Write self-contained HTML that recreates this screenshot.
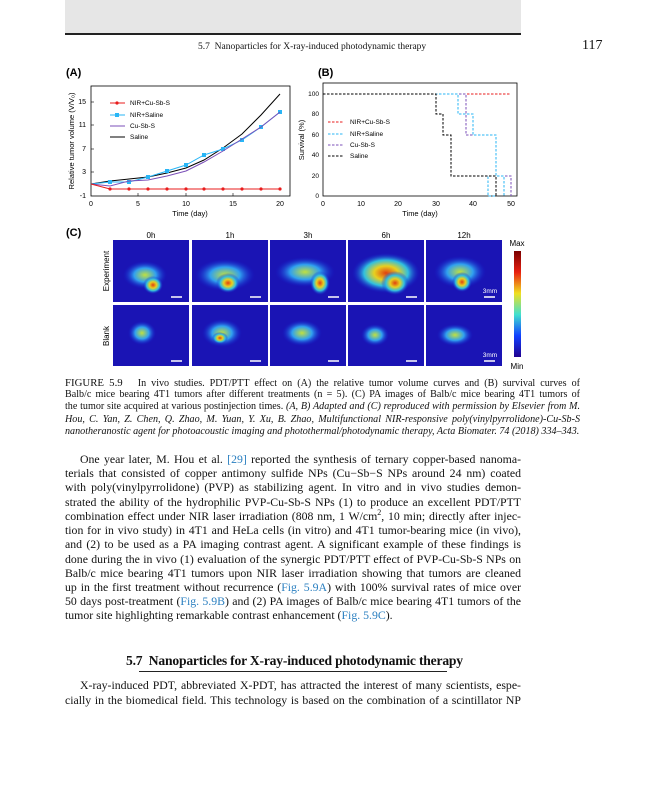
<!DOCTYPE html>
<html><head><meta charset="utf-8"><style>
body{margin:0;background:#fff;width:648px;height:800px;overflow:hidden;position:relative;font-family:"Liberation Serif",serif;color:#111}
.a{position:absolute;white-space:nowrap}
.ln{position:absolute;left:65px;width:456px;font-size:11.8px;text-align:justify;text-align-last:justify;white-space:nowrap;line-height:14px}
.ln.l{text-align-last:left}
.cp{position:absolute;left:65px;width:515px;font-size:10.1px;white-space:nowrap;line-height:12px;text-align:justify;text-align-last:justify}
.cp.l{text-align-last:left}
.b{color:#2a7fc0}
i{font-style:italic}
</style></head><body>
<div class="a" style="left:65px;top:0;width:456px;height:33px;background:#e6e6e6"></div>
<div class="a" style="left:65px;top:33px;width:456px;height:1.5px;background:#222"></div>
<div class="a" style="left:198px;top:42px;font-size:9.5px">5.7&nbsp; Nanoparticles for X-ray-induced photodynamic therapy</div>
<div class="a" style="left:582px;top:38px;font-size:14px">117</div>

<svg class="a" style="left:0;top:0" width="648" height="375" font-family="Liberation Sans, sans-serif">
<text x="66" y="76" font-size="11" font-weight="bold">(A)</text>
<text x="318" y="76" font-size="11" font-weight="bold">(B)</text>
<text x="66" y="236" font-size="11" font-weight="bold">(C)</text>
<rect x="91" y="86" width="199" height="110" fill="none" stroke="#000" stroke-width="0.8"/>
<g font-size="7" text-anchor="end">
<text x="86" y="104">15</text><text x="86" y="127">11</text><text x="86" y="151">7</text><text x="86" y="174">3</text><text x="86" y="198">-1</text></g>
<g stroke="#000" stroke-width="0.6"><line x1="91" y1="102" x2="94" y2="102"/><line x1="91" y1="125" x2="94" y2="125"/><line x1="91" y1="149" x2="94" y2="149"/><line x1="91" y1="172" x2="94" y2="172"/>
<line x1="138" y1="196" x2="138" y2="193"/><line x1="186" y1="196" x2="186" y2="193"/><line x1="233" y1="196" x2="233" y2="193"/></g>
<g font-size="7" text-anchor="middle"><text x="91" y="206">0</text><text x="138" y="206">5</text><text x="186" y="206">10</text><text x="233" y="206">15</text><text x="280" y="206">20</text></g>
<text x="190" y="216" font-size="7.5" text-anchor="middle">Time (day)</text>
<text transform="translate(74,141) rotate(-90)" font-size="7.5" text-anchor="middle">Relative tumor volume (V/V₀)</text>
<polyline fill="none" stroke="#000" stroke-width="1" points="91,184 110,181 129,179 148,177 167,173 186,168 204,160 223,148 242,134 261,115 280,94"/>
<polyline fill="none" stroke="#29b6f6" stroke-width="1" points="91,184 110,182 129,182 148,177 167,171 186,165 204,155 223,149 242,140 261,127 280,112"/>
<g fill="#29b6f6"><rect x="108" y="180" width="4" height="4"/><rect x="127" y="180" width="4" height="4"/><rect x="146" y="175" width="4" height="4"/><rect x="165" y="169" width="4" height="4"/><rect x="184" y="163" width="4" height="4"/><rect x="202" y="153" width="4" height="4"/><rect x="221" y="147" width="4" height="4"/><rect x="240" y="138" width="4" height="4"/><rect x="259" y="125" width="4" height="4"/><rect x="278" y="110" width="4" height="4"/></g>
<polyline fill="none" stroke="#7b4fb8" stroke-width="1" points="91,184 110,186 129,181 148,180 167,176 186,171 204,162 223,151 242,139 261,127 280,112"/>
<polyline fill="none" stroke="#e81c1c" stroke-width="1" points="91,184 110,189 280,189"/>
<g fill="#e81c1c"><circle cx="110" cy="189" r="1.6"/><circle cx="129" cy="189" r="1.6"/><circle cx="148" cy="189" r="1.6"/><circle cx="167" cy="189" r="1.6"/><circle cx="186" cy="189" r="1.6"/><circle cx="204" cy="189" r="1.6"/><circle cx="223" cy="189" r="1.6"/><circle cx="242" cy="189" r="1.6"/><circle cx="261" cy="189" r="1.6"/><circle cx="280" cy="189" r="1.6"/></g>
<g font-size="6.5"><line x1="110" y1="103" x2="125" y2="103" stroke="#e81c1c"/><circle cx="117" cy="103" r="1.6" fill="#e81c1c"/><text x="130" y="105">NIR+Cu-Sb-S</text>
<line x1="110" y1="115" x2="125" y2="115" stroke="#29b6f6"/><rect x="115" y="113" width="4" height="4" fill="#29b6f6"/><text x="130" y="117">NIR+Saline</text>
<line x1="110" y1="126" x2="125" y2="126" stroke="#7b4fb8"/><text x="130" y="128">Cu-Sb-S</text>
<line x1="110" y1="137" x2="125" y2="137" stroke="#000"/><text x="130" y="139">Saline</text></g>
<rect x="323" y="83" width="194" height="113" fill="none" stroke="#000" stroke-width="0.8"/>
<g font-size="6.5" text-anchor="end"><text x="319" y="96">100</text><text x="319" y="116">80</text><text x="319" y="137">60</text><text x="319" y="157">40</text><text x="319" y="178">20</text><text x="319" y="198">0</text></g>
<g font-size="7" text-anchor="middle"><text x="323" y="206">0</text><text x="361" y="206">10</text><text x="398" y="206">20</text><text x="436" y="206">30</text><text x="473" y="206">40</text><text x="511" y="206">50</text></g>
<text x="420" y="216" font-size="7.5" text-anchor="middle">Time (day)</text>
<text transform="translate(304,140) rotate(-90)" font-size="7.5" text-anchor="middle">Survival (%)</text>
<g fill="none" stroke-width="1" stroke-dasharray="2.5,1.5">
<polyline stroke="#e81c1c" points="323,94 511,94"/>
<polyline stroke="#7b4fb8" points="323,94 466,94 466,135 496,135 496,176 511,176 511,196"/>
<polyline stroke="#29b6f6" points="323,94 458,94 458,114 473,114 473,135 496,135 496,196 488,196 488,176 504,176 504,196"/>
<polyline stroke="#000" points="323,94 436,94 436,114 443,114 443,135 451,135 451,176 496,176 496,196"/>
</g>
<g font-size="6.5"><g stroke-dasharray="2.5,1.5" stroke-width="1"><line x1="328" y1="122" x2="343" y2="122" stroke="#e81c1c"/><line x1="328" y1="134" x2="343" y2="134" stroke="#29b6f6"/><line x1="328" y1="145" x2="343" y2="145" stroke="#7b4fb8"/><line x1="328" y1="156" x2="343" y2="156" stroke="#000"/></g>
<text x="350" y="124">NIR+Cu-Sb-S</text><text x="350" y="136">NIR+Saline</text><text x="350" y="147">Cu-Sb-S</text><text x="350" y="158">Saline</text></g>
<defs><linearGradient id="cb" x1="0" y1="0" x2="0" y2="1"><stop offset="0" stop-color="#7a0000"/><stop offset=".2" stop-color="#e82010"/><stop offset=".4" stop-color="#f0e020"/><stop offset=".6" stop-color="#40e0d0"/><stop offset=".8" stop-color="#1040ff"/><stop offset="1" stop-color="#200090"/></linearGradient>
<radialGradient id="hot"><stop offset="0" stop-color="#e04010"/><stop offset=".35" stop-color="#e8d020"/><stop offset=".65" stop-color="#30c0e0"/><stop offset="1" stop-color="#1020d0" stop-opacity="0"/></radialGradient>
<radialGradient id="warm"><stop offset="0" stop-color="#c0e040"/><stop offset=".5" stop-color="#30a0f0"/><stop offset="1" stop-color="#1020d0" stop-opacity="0"/></radialGradient></defs>
<g font-size="8" text-anchor="middle"><text x="151" y="238">0h</text><text x="230" y="238">1h</text><text x="308" y="238">3h</text><text x="386" y="238">6h</text><text x="464" y="238">12h</text></g>
<text transform="translate(109,271) rotate(-90)" font-size="8" text-anchor="middle">Experiment</text>
<text transform="translate(109,336) rotate(-90)" font-size="8" text-anchor="middle">Blank</text>
<g fill="#1a14b4">
<rect x="113" y="240" width="76" height="62"/><rect x="192" y="240" width="76" height="62"/><rect x="270" y="240" width="76" height="62"/><rect x="348" y="240" width="76" height="62"/><rect x="426" y="240" width="76" height="62"/>
<rect x="113" y="305" width="76" height="61"/><rect x="192" y="305" width="76" height="61"/><rect x="270" y="305" width="76" height="61"/><rect x="348" y="305" width="76" height="61"/><rect x="426" y="305" width="76" height="61"/></g>
<g>
<ellipse cx="145" cy="275" rx="22" ry="14" fill="url(#warm)"/><ellipse cx="153" cy="285" rx="10" ry="9" fill="url(#hot)"/>
<ellipse cx="225" cy="275" rx="30" ry="16" fill="url(#warm)"/><ellipse cx="228" cy="283" rx="12" ry="10" fill="url(#hot)"/>
<ellipse cx="305" cy="272" rx="30" ry="15" fill="url(#warm)"/><ellipse cx="320" cy="283" rx="10" ry="12" fill="url(#hot)"/>
<ellipse cx="386" cy="273" rx="34" ry="20" fill="url(#hot)"/><ellipse cx="395" cy="283" rx="14" ry="12" fill="url(#hot)"/>
<ellipse cx="460" cy="272" rx="26" ry="16" fill="url(#warm)"/><ellipse cx="462" cy="282" rx="10" ry="10" fill="url(#hot)"/>
<ellipse cx="142" cy="333" rx="14" ry="12" fill="url(#warm)"/>
<ellipse cx="222" cy="333" rx="20" ry="14" fill="url(#warm)"/><ellipse cx="220" cy="338" rx="8" ry="6" fill="url(#hot)"/>
<ellipse cx="302" cy="333" rx="20" ry="13" fill="url(#warm)"/>
<ellipse cx="375" cy="335" rx="14" ry="11" fill="url(#warm)"/>
<ellipse cx="455" cy="335" rx="18" ry="11" fill="url(#warm)"/>
</g>
<g stroke="#fff" stroke-width="1.5"><line x1="171" y1="297" x2="182" y2="297"/><line x1="250" y1="297" x2="261" y2="297"/><line x1="328" y1="297" x2="339" y2="297"/><line x1="406" y1="297" x2="417" y2="297"/><line x1="484" y1="297" x2="495" y2="297"/>
<line x1="171" y1="361" x2="182" y2="361"/><line x1="250" y1="361" x2="261" y2="361"/><line x1="328" y1="361" x2="339" y2="361"/><line x1="406" y1="361" x2="417" y2="361"/><line x1="484" y1="361" x2="495" y2="361"/></g>
<g fill="#fff" font-size="6.5" text-anchor="middle"><text x="490" y="293">3mm</text><text x="490" y="357">3mm</text></g>
<rect x="514" y="251" width="7" height="106" fill="url(#cb)"/>
<g font-size="8" text-anchor="middle"><text x="517" y="246">Max</text><text x="517" y="369">Min</text></g>
</svg>

<div class="cp" style="top:377px"><span style="font-size:10.8px">FIGURE 5.9</span>&nbsp;&nbsp; In vivo studies. PDT/PTT effect on (A) the relative tumor volume curves and (B) survival curves of</div>
<div class="cp" style="top:389px">Balb/c mice bearing 4T1 tumors after different treatments (n = 5). (C) PA images of Balb/c mice bearing 4T1 tumors of</div>
<div class="cp" style="top:401px">the tumor site acquired at various postinjection times. <i>(A, B) Adapted and (C) reproduced with permission by Elsevier from M.</i></div>
<div class="cp" style="top:414px"><i>Hou, C. Yan, Z. Chen, Q. Zhao, M. Yuan, Y. Xu, B. Zhao, Multifunctional NIR-responsive poly(vinylpyrrolidone)-Cu-Sb-S</i></div>
<div class="cp l" style="top:426px"><i>nanotheranostic agent for photoacoustic imaging and photothermal/photodynamic therapy, Acta Biomater. 74 (2018) 334–343.</i></div>

<div class="ln" style="top:452px;left:80px;width:441px">One year later, M. Hou et al. <span class="b">[29]</span> reported the synthesis of ternary copper-based nanoma-</div>
<div class="ln" style="top:466px">terials that consisted of copper antimony sulfide NPs (Cu−Sb−S NPs around 24 nm) coated</div>
<div class="ln" style="top:480px">with poly(vinylpyrrolidone) (PVP) as stabilizing agent. In vitro and in vivo studies demon-</div>
<div class="ln" style="top:495px">strated the ability of the hydrophilic PVP-Cu-Sb-S NPs (1) to produce an excellent PDT/PTT</div>
<div class="ln" style="top:509px">combination effect under NIR laser irradiation (808 nm, 1 W/cm<sup style="font-size:8px;line-height:0">2</sup>, 10 min; directly after injec-</div>
<div class="ln" style="top:523px">tion for in vivo study) in 4T1 and HeLa cells (in vitro) and 4T1 tumor-bearing mice (in vivo),</div>
<div class="ln" style="top:537px">and (2) to be used as a PA imaging contrast agent. A significant example of these findings is</div>
<div class="ln" style="top:552px">done during the in vivo (1) evaluation of the synergic PDT/PTT effect of PVP-Cu-Sb-S NPs on</div>
<div class="ln" style="top:566px">Balb/c mice bearing 4T1 tumors upon NIR laser irradiation showing that tumors are cleaned</div>
<div class="ln" style="top:580px">up in the first treatment without recurrence (<span class="b">Fig. 5.9A</span>) with 100% survival rates of mice over</div>
<div class="ln" style="top:594px">50 days post-treatment (<span class="b">Fig. 5.9B</span>) and (2) PA images of Balb/c mice bearing 4T1 tumors of the</div>
<div class="ln l" style="top:608px">tumor site highlighting remarkable contrast enhancement (<span class="b">Fig. 5.9C</span>).</div>

<div class="a" style="left:126px;top:653px;font-size:13.6px;font-weight:bold;letter-spacing:-0.2px">5.7&nbsp; Nanoparticles for X-ray-induced photodynamic therapy</div>
<div class="a" style="left:139px;top:671px;width:308px;height:1px;background:#222"></div>
<div class="ln" style="top:678px;left:80px;width:441px">X-ray-induced PDT, abbreviated X-PDT, has attracted the interest of many scientists, espe-</div>
<div class="ln" style="top:693px">cially in the biomedical field. This technology is based on the combination of a scintillator NP</div>
</body></html>
